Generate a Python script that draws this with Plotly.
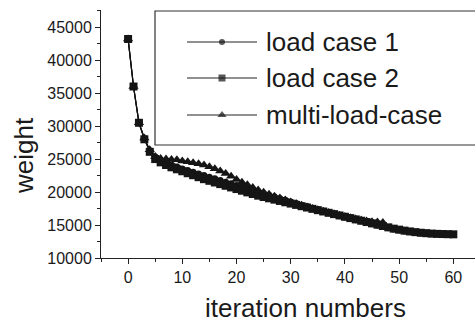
import plotly.graph_objects as go

iterations_a = list(range(0, 61))
iterations_b = list(range(0, 48))

load_case_1 = [43200, 36000, 30500, 28100, 26200, 25300, 24800, 24400, 24100, 23800,
               23500, 23250, 23000, 22750, 22500, 22250, 22000, 21750, 21500, 21250,
               21000, 20750, 20500, 20250, 20000, 19750, 19500, 19250, 19000, 18750,
               18500, 18250, 18000, 17800, 17550, 17300, 17100, 16850, 16650, 16400,
               16200, 16000, 15800, 15600, 15400, 15200, 15000, 14800, 14600, 14400,
               14250, 14100, 13980, 13880, 13800, 13740, 13690, 13650, 13620, 13600,
               13580]
load_case_2 = [43200, 36000, 30500, 28000, 26100, 25000, 24500, 24100, 23750, 23450,
               23150, 22850, 22550, 22250, 21950, 21700, 21450, 21200, 20950, 20700,
               20450, 20200, 19950, 19700, 19450, 19250, 19050, 18850, 18650, 18450,
               18250, 18050, 17850, 17650, 17450, 17250, 17050, 16850, 16650, 16450,
               16250, 16050, 15850, 15650, 15450, 15250, 15050, 14850, 14650, 14450,
               14300, 14150, 14030, 13920, 13830, 13760, 13700, 13660, 13630, 13610,
               13590]
multi_load_case = [43200, 36000, 30500, 28200, 26400, 25400, 25100, 25000, 24950, 24900,
                   24700, 24600, 24450, 24300, 24100, 23850, 23550, 23200, 22800, 22400,
                   21900, 21500, 21100, 20700, 20300, 19950, 19650, 19350, 19100, 18800,
                   18500, 18250, 18000, 17750, 17500, 17300, 17100, 16900, 16700, 16500,
                   16300, 16100, 15900, 15750, 15600, 15500, 15450, 15400]

series_names = ["load case 1", "load case 2", "multi-load-case"]
series_symbols = ["circle", "square", "triangle-up"]
series_sizes = [7, 8, 9]

W, H = 475, 326
L, R, T, B = 101, 0, 10, 68
PW, PH = W - L - R, H - T - B

def px(x):
    return (x - L) / PW

def py(y):
    return (H - B - y) / PH

FONT = "Liberation Sans, Arial, Helvetica, sans-serif"
INK = "#1a1a1a"

fig = go.Figure()

for xs, ys, sym, size in [
    (iterations_a, load_case_1, series_symbols[0], series_sizes[0]),
    (iterations_a, load_case_2, series_symbols[1], series_sizes[1]),
    (iterations_b, multi_load_case, series_symbols[2], series_sizes[2]),
]:
    fig.add_trace(go.Scatter(
        x=xs, y=ys, mode="lines+markers",
        line=dict(color="#111111", width=1.2),
        marker=dict(symbol=sym, size=size, color="#151515", line=dict(width=0)),
        showlegend=False, cliponaxis=False,
    ))

# manual legend
row_y = [42, 78, 115]
legend_sizes = [6, 7, 8]
for name, sym, size, ry in zip(series_names, series_symbols, legend_sizes, row_y):
    fig.add_trace(go.Scatter(
        x=[px(187), px(222), px(257)], y=[py(ry)] * 3,
        xaxis="x2", yaxis="y2", mode="lines+markers",
        line=dict(color="#222222", width=1),
        marker=dict(symbol=sym, size=[0, size, 0], color="#111111", line=dict(width=0)),
        showlegend=False, cliponaxis=False, hoverinfo="skip",
    ))
    fig.add_annotation(
        x=px(264), y=py(ry), xref="paper", yref="paper",
        text=name, showarrow=False, xanchor="left", yanchor="middle",
        font=dict(family=FONT, size=26, color=INK),
    )

fig.add_shape(type="rect", xref="paper", yref="paper",
              x0=px(155), x1=px(480), y0=py(145), y1=py(11),
              line=dict(color="#333333", width=1.2), fillcolor="rgba(0,0,0,0)")

fig.add_annotation(x=px(24), y=py(156), xref="paper", yref="paper",
                   text="weight", textangle=-90, showarrow=False,
                   xanchor="center", yanchor="middle",
                   font=dict(family=FONT, size=26, color=INK))
fig.add_annotation(x=px(305), y=py(308), xref="paper", yref="paper",
                   text="iteration numbers", showarrow=False,
                   xanchor="center", yanchor="middle",
                   font=dict(family=FONT, size=26, color=INK))

fig.update_layout(
    width=W, height=H,
    margin=dict(l=L, r=R, t=T, b=B),
    paper_bgcolor="white", plot_bgcolor="white",
    font=dict(family=FONT, color=INK),
    xaxis=dict(
        range=[-5, 64], showgrid=False, zeroline=False,
        showline=True, linecolor="#222222", linewidth=1,
        ticks="outside", ticklen=5, tickwidth=1, tickcolor="#222222",
        tickvals=[0, 10, 20, 30, 40, 50, 60],
        tickfont=dict(family=FONT, size=16, color=INK),
        minor=dict(dtick=5, tick0=0, ticks="outside", ticklen=3, tickcolor="#222222", showgrid=False),
    ),
    yaxis=dict(
        range=[10000, 47600], showgrid=False, zeroline=False,
        showline=True, linecolor="#222222", linewidth=1,
        ticks="outside", ticklen=5, tickwidth=1, tickcolor="#222222",
        tickvals=[10000, 15000, 20000, 25000, 30000, 35000, 40000, 45000],
        tickformat="d",
        tickfont=dict(family=FONT, size=16, color=INK),
        minor=dict(dtick=2500, tick0=0, ticks="outside", ticklen=3, tickcolor="#222222", showgrid=False),
    ),
    xaxis2=dict(overlaying="x", range=[0, 1], visible=False, fixedrange=True),
    yaxis2=dict(overlaying="y", range=[0, 1], visible=False, fixedrange=True),
)

fig.write_html("out.html")
